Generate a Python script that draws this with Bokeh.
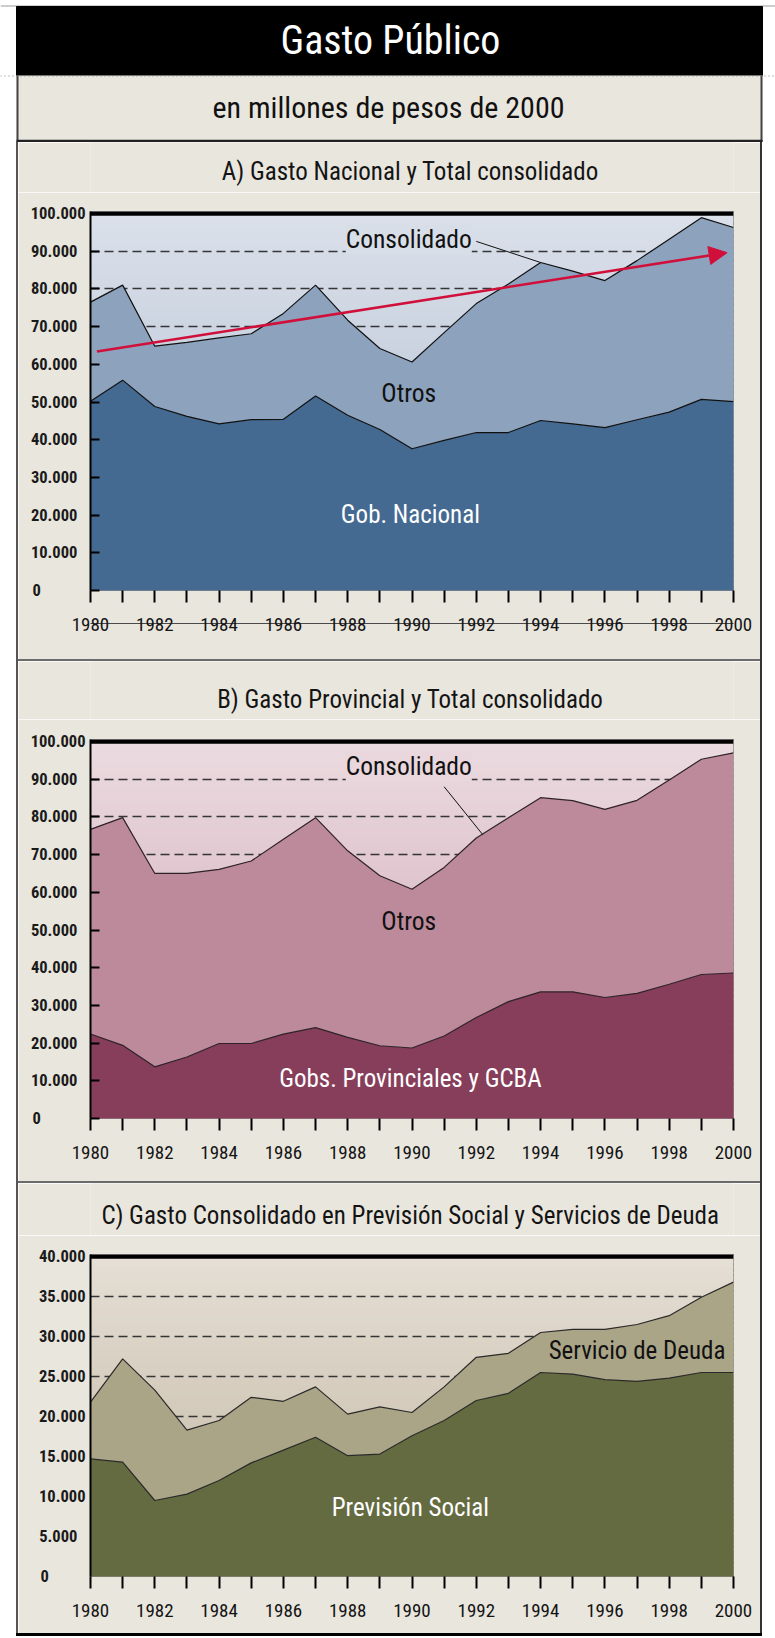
from bokeh.plotting import figure
from bokeh.models import (FixedTicker, LinearAxis, Label, Arrow, NormalHead, Span,
                          Range1d, Spacer)
from bokeh.layouts import column, row
from bokeh.core.properties import value
from bokeh.embed import file_html
from bokeh.resources import INLINE

FONT = "Roboto Condensed, Roboto"
PAGE_BG = "#E9E6DE"
RED = "#D0103A"

# ---------------- data ----------------
years = [1980, 1981, 1982, 1983, 1984, 1985, 1986, 1987, 1988, 1989, 1990,
         1991, 1992, 1993, 1994, 1995, 1996, 1997, 1998, 1999, 2000]
label_years = [1980, 1982, 1984, 1986, 1988, 1990, 1992, 1994, 1996, 1998, 2000]

# A) Gasto Nacional y Total consolidado (millones de pesos de 2000)
a_total = [76500, 81000, 64800, 65800, 67000, 68100, 73500, 81000, 71700, 64200, 60600,
           68400, 76100, 81300, 87000, 84700, 82200, 87500, 93200, 98900, 96300]
a_nacional = [50200, 55800, 48800, 46200, 44200, 45300, 45400, 51600, 46500, 42700, 37600,
              39800, 41900, 41900, 45100, 44200, 43200, 45300, 47300, 50700, 50100]

# B) Gasto Provincial y Total consolidado
b_total = [76700, 79800, 65000, 65000, 66100, 68300, 74100, 79800, 71000, 64400, 60800,
           66600, 74400, 79800, 85100, 84300, 82000, 84400, 89800, 95300, 97000]
b_provincial = [22400, 19400, 13700, 16300, 19900, 19900, 22400, 24100, 21500, 19300, 18700,
                21900, 26800, 31000, 33600, 33600, 32100, 33200, 35600, 38200, 38600]

# C) Previsión Social y Servicio de Deuda
c_total = [21800, 27200, 23300, 18300, 19500, 22400, 21900, 23700, 20300, 21200, 20500,
           23700, 27400, 27900, 30500, 30900, 30900, 31500, 32600, 34900, 36800]
c_prevision = [14700, 14300, 9500, 10300, 12000, 14200, 15800, 17400, 15100, 15300, 17600,
               19500, 22000, 22900, 25500, 25300, 24600, 24400, 24800, 25500, 25500]

ab_yticks = [0, 10000, 20000, 30000, 40000, 50000, 60000, 70000, 80000, 90000, 100000]
c_yticks = [0, 5000, 10000, 15000, 20000, 25000, 30000, 35000, 40000]
ab_grid = [70000, 80000, 90000]
c_grid = [20000, 25000, 30000, 35000]

# trend arrow of panel A (start / end)
trend_a = (1980.2, 63400, 1999.8, 89600)
# leader lines (label end -> series)
leader_a = ([1992.0, years[14]], [92600, a_total[14]])
leader_b = ([1991.0, 1992.2], [88000, 75300])

FS, PS = "\u2007", "\u2008"   # figure space / punctuation space (left-aligned labels)


def fmt(v, width):
    s = f"{v:,}".replace(",", ".")
    full = f"{width:,}".replace(",", ".")
    pad = ""
    for ch in full[len(s):]:
        pad += PS if ch == "." else FS
    return s + pad


def mix(c1, c2, t):
    a = [int(c1[i:i + 2], 16) for i in (1, 3, 5)]
    b = [int(c2[i:i + 2], 16) for i in (1, 3, 5)]
    return "#%02x%02x%02x" % tuple(round(a[k] + (b[k] - a[k]) * t) for k in range(3))


TITLE_X = 369


def title_fig(text, h, cy):
    t = figure(width=742, height=h, x_range=Range1d(0, 742), y_range=Range1d(h, 0),
               output_backend="svg", toolbar_location=None, min_border=0,
               x_axis_location=None, y_axis_location=None, outline_line_color=None,
               background_fill_color=PAGE_BG, border_fill_color=PAGE_BG)
    t.grid.visible = False
    t.text(x=[TITLE_X], y=[cy], text=[text], text_font=value(FONT), text_font_size="25px",
           text_color="#141414", text_align="center", text_baseline="middle")
    return t


def make_panel(h, btop, bbot, ymax, frame_px, yticks, grid,
               g_top, g_bot, lower, upper, lower_col, upper_col, edge_col, tick_in, strike):
    top = ymax * frame_px / (frame_px - 2)
    p = figure(width=742, height=h, x_range=Range1d(years[0], years[-1]),
               y_range=Range1d(0, top), output_backend="svg", toolbar_location=None,
               min_border_left=72, min_border_right=27, min_border_top=btop,
               min_border_bottom=bbot)
    p.background_fill_color = g_bot
    p.border_fill_color = PAGE_BG
    p.outline_line_color = "#2a2a2a"
    p.outline_line_width = 1

    # vertical gradient background
    n = 60
    step = ymax / n
    bottoms = [i * step for i in range(n)]
    tops = [(i + 1) * step for i in range(n)]
    tops[-1] = top
    cols = [mix(g_bot, g_top, (i + 0.5) / n) for i in range(n)]
    r = p.quad(left=years[0], right=years[-1], bottom=bottoms, top=tops,
               fill_color=cols, line_color=cols, line_width=1)
    r.level = "image"

    # dashed reference lines (behind the areas)
    p.xgrid.visible = False
    p.ygrid.ticker = FixedTicker(ticks=grid)
    p.ygrid.grid_line_color = "#353535"
    p.ygrid.grid_line_dash = "9 5"
    p.ygrid.grid_line_width = 1.3

    # stacked areas
    p.varea(x=years, y1=0, y2=lower, fill_color=lower_col)
    p.varea(x=years, y1=lower, y2=upper, fill_color=upper_col)
    p.line(years, lower, line_color=edge_col, line_width=1.2)
    p.line(years, upper, line_color=edge_col, line_width=1.2)

    # top heavy rule
    p.add_layout(Span(location=ymax, dimension="width", line_color="black", line_width=4.5))

    # y axis
    ya = p.yaxis[0]
    ya.ticker = FixedTicker(ticks=yticks)
    ya.major_label_overrides = {v: fmt(v, max(yticks)) for v in yticks}
    ya.major_tick_in = tick_in
    ya.major_tick_out = 0
    ya.major_tick_line_width = 2
    ya.major_tick_line_color = "black"
    ya.minor_tick_in = 0
    ya.minor_tick_out = 0
    ya.axis_line_color = "black"
    ya.axis_line_width = 2
    ya.major_label_text_font = FONT
    ya.major_label_text_font_size = "16.5px"
    ya.major_label_text_font_style = "bold"
    ya.major_label_text_color = "#1a1a1a"
    ya.major_label_standoff = 5

    # x axis 1: a visible tick every year; its (invisible) long major ticks
    # reserve the room down to the label rule
    xa = p.xaxis[0]
    xa.ticker = FixedTicker(ticks=years, minor_ticks=years)
    xa.major_tick_out = 33
    xa.major_tick_in = 0
    xa.major_tick_line_color = None
    xa.minor_tick_out = 12
    xa.minor_tick_in = 0
    xa.minor_tick_line_width = 2
    xa.minor_tick_line_color = "black"
    xa.axis_line_color = None
    xa.major_label_overrides = {y: "" for y in years}
    xa.major_label_text_font_size = "1px"
    xa.major_label_standoff = 0

    # x axis 2: the year labels (with a rule through them in panel A)
    xb = LinearAxis(ticker=FixedTicker(ticks=label_years, minor_ticks=[]))
    xb.major_tick_out = 0
    xb.major_tick_in = 0
    xb.minor_tick_out = 0
    xb.minor_tick_in = 0
    xb.axis_line_color = "#4a4a4a" if strike else None
    xb.axis_line_width = 1
    xb.major_label_standoff = -6
    xb.major_label_text_font = FONT
    xb.major_label_text_font_size = "19px"
    xb.major_label_text_color = "#141414"
    p.add_layout(xb, "below")
    return p


def lab(p, x, y, text, size, color, bg=None):
    kw = dict(x=x, y=y, text=text, text_font=FONT, text_font_size=size,
              text_color=color, text_align="center", text_baseline="middle")
    if bg is not None:
        kw.update(background_fill_color=bg)
    p.add_layout(Label(**kw))


# ---------------- panel A ----------------
A_TOP, A_BOT = "#DBE0EA", "#AEBDCF"
ta = title_fig("A) Gasto Nacional y Total consolidado", 50, 29)
pa = make_panel(467, 19, 69, 100000, 379, ab_yticks, ab_grid, A_TOP, A_BOT,
                a_nacional, a_total, "#456A91", "#8DA2BD", "#111111", 9, True)
lab(pa, 1989.9, 93200, "Consolidado", "25.5px", "#111111", bg=mix(A_BOT, A_TOP, 0.93))
pa.line(leader_a[0], leader_a[1], line_color="#111111", line_width=1)
lab(pa, 1989.9, 52300, "Otros", "25.5px", "#111111")
lab(pa, 1989.95, 20200, "Gob. Nacional", "25px", "white")
pa.add_layout(Arrow(end=NormalHead(size=18, fill_color=RED, line_color=RED),
                    x_start=trend_a[0], y_start=trend_a[1],
                    x_end=trend_a[2], y_end=trend_a[3],
                    line_color=RED, line_width=2.6))

# ---------------- panel B ----------------
B_TOP, B_BOT = "#EBDBE0", "#CDA2B1"
tb = title_fig("B) Gasto Provincial y Total consolidado", 58, 38)
pb = make_panel(462, 20, 63, 100000, 379, ab_yticks, ab_grid, B_TOP, B_BOT,
                b_provincial, b_total, "#873E5B", "#BC8A9B", "#2e2228", 9, False)
lab(pb, 1989.9, 93400, "Consolidado", "25.5px", "#111111", bg=mix(B_BOT, B_TOP, 0.93))
pb.line(leader_b[0], leader_b[1], line_color="#111111", line_width=1)
lab(pb, 1989.9, 52400, "Otros", "25.5px", "#111111")
lab(pb, 1989.95, 10500, "Gobs. Provinciales y GCBA", "25px", "white")

# ---------------- panel C ----------------
C_TOP, C_BOT = "#E5DFD5", "#C0B49F"
tc = title_fig("C) Gasto Consolidado en Previsión Social y Servicios de Deuda", 52, 32)
pc = make_panel(398, 19, 57, 40000, 322, c_yticks, c_grid, C_TOP, C_BOT,
                c_prevision, c_total, "#656B41", "#ABA588", "#2a2a2a", 0, False)
lab(pc, 1997.0, 28300, "Servicio de Deuda", "25px", "#111111")
lab(pc, 1989.95, 8600, "Previsión Social", "25px", "white")

# ---------------- header ----------------
W0, H0 = 775, 142
hdr = figure(width=W0, height=H0, x_range=Range1d(0, W0), y_range=Range1d(H0, 0),
             output_backend="svg", toolbar_location=None, min_border=0,
             x_axis_location=None, y_axis_location=None, outline_line_color=None,
             background_fill_color="white", border_fill_color="white")
hdr.grid.visible = False
hdr.segment(x0=[0], y0=[5.5], x1=[W0], y1=[5.5], line_color="#9a9a9a", line_width=1)
hdr.quad(left=16, right=762, top=6, bottom=75, fill_color="black", line_color="black")
hdr.quad(left=16, right=762, top=75, bottom=H0, fill_color=PAGE_BG, line_color=None)
hdr.segment(x0=[17, 761], y0=[75, 75], x1=[17, 761], y1=[H0, H0], line_color="#444444", line_width=2)
hdr.segment(x0=[0], y0=[75.5], x1=[W0], y1=[75.5], line_color="#7a7a7a", line_width=1, line_dash="1 3")
hdr.segment(x0=[16], y0=[140.5], x1=[762], y1=[140.5], line_color="#222222", line_width=2.5)
hdr.text(x=[390], y=[40], text=["Gasto Público"], text_font=value(FONT), text_font_size="40px",
         text_color="white", text_align="center", text_baseline="middle")
hdr.text(x=[388], y=[107], text=["en millones de pesos de 2000"], text_font=value(FONT),
         text_font_size="30px", text_color="#111111", text_align="center", text_baseline="middle")

BODY_H = 50 + 467 + 2 + 58 + 462 + 2 + 52 + 398


def bar(w, h, c):
    return Spacer(width=w, height=h, styles={"background-color": c})


body = row(Spacer(width=16, height=BODY_H),
           bar(2, BODY_H, "#555555"),
           column(ta, pa, bar(742, 2, "#6b6b6b"), tb, pb, bar(742, 2, "#6b6b6b"), tc, pc),
           bar(2, BODY_H, "#333333"))
bottom = row(Spacer(width=16, height=3), bar(746, 3, "#000000"))
layout = column(hdr, body, bottom)

open("out.html", "w").write(file_html(layout, INLINE))
